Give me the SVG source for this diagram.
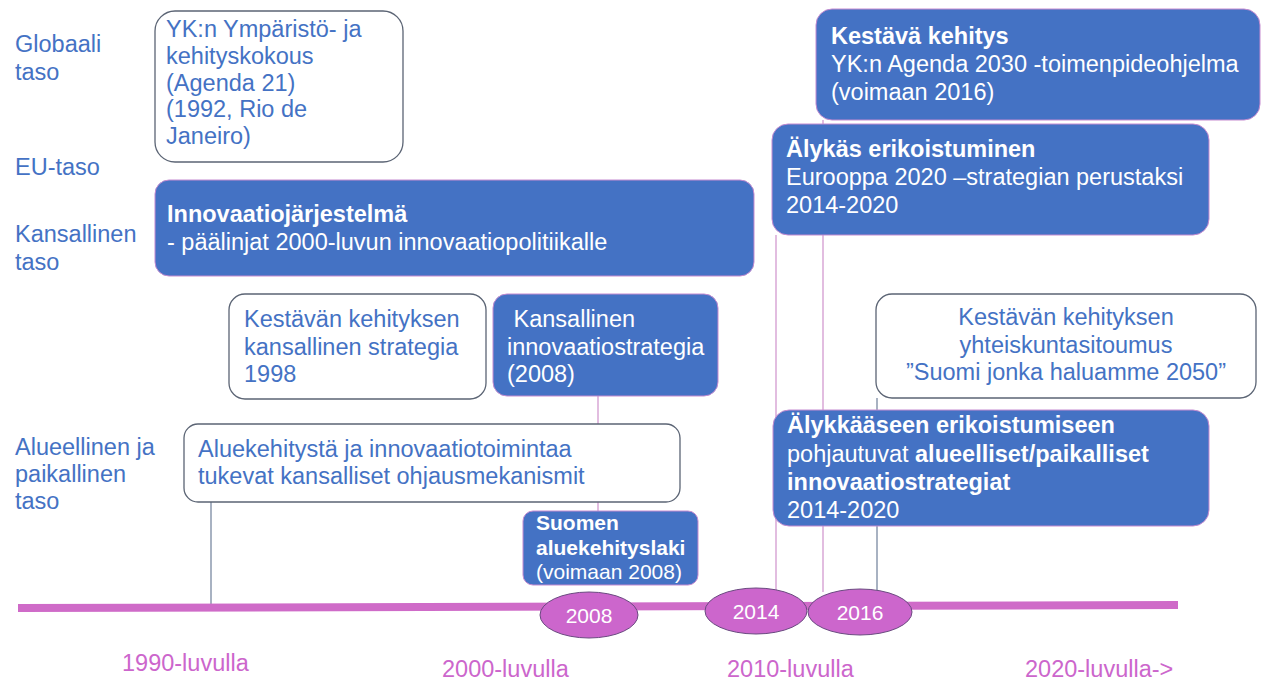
<svg xmlns="http://www.w3.org/2000/svg" width="1262" height="680" viewBox="0 0 1262 680">
<style>
text{font-family:"Liberation Sans",Arial,sans-serif;font-size:23.5px}
.lbl{fill:#4472C4}
.wt{fill:#4472C4}
.bt{fill:#ffffff}
.b{font-weight:bold}
.wbox{fill:#ffffff;stroke:#5B6474;stroke-width:1.3}
.bbox{fill:#4472C4;stroke:#C58BD0;stroke-width:1}
.pk{stroke:#D39AD0;stroke-width:1.3;fill:none}
.gy{stroke:#6E7F99;stroke-width:1.2;fill:none}
.yr{fill:#CC66CC;stroke:#6A4A80;stroke-width:1}
.yt{fill:#ffffff;font-size:21px;text-anchor:middle}
.dec{fill:#CC66CC;font-size:23.5px}
</style>
<rect width="1262" height="680" fill="#ffffff"/>
<g id="connectors">
<line class="gy" x1="211" y1="502" x2="211" y2="608"/>
<line class="pk" x1="598" y1="396" x2="598" y2="511"/>
<line class="pk" x1="776" y1="235" x2="776" y2="590"/>
<line class="pk" x1="823" y1="120" x2="823" y2="592"/>
<line class="gy" x1="877" y1="398" x2="877" y2="590"/>
</g>
<g id="levels">
<text class="lbl" x="15" y="52">Globaali</text>
<text class="lbl" x="15" y="80">taso</text>
<text class="lbl" x="15" y="175">EU-taso</text>
<text class="lbl" x="15" y="242">Kansallinen</text>
<text class="lbl" x="15" y="270">taso</text>
<text class="lbl" x="15" y="455">Alueellinen ja</text>
<text class="lbl" x="15" y="482">paikallinen</text>
<text class="lbl" x="15" y="509">taso</text>
</g>
<g id="node-yk">
<rect class="wbox" x="155" y="11" width="248" height="151" rx="20"/>
<text class="wt" x="166" y="37">YK:n Ympäristö- ja</text>
<text class="wt" x="166" y="64">kehityskokous</text>
<text class="wt" x="166" y="90.5">(Agenda 21)</text>
<text class="wt" x="166" y="117">(1992, Rio de</text>
<text class="wt" x="166" y="144">Janeiro)</text>
</g>
<g id="node-innovaatiojarjestelma">
<rect class="bbox" x="155" y="180" width="599" height="96" rx="14"/>
<text class="bt b" x="167" y="222">Innovaatiojärjestelmä</text>
<text class="bt" x="167" y="250">- päälinjat 2000-luvun innovaatiopolitiikalle</text>
</g>
<g id="node-kestava-kehitys">
<rect class="bbox" x="816" y="9" width="444" height="111" rx="16"/>
<text class="bt b" x="831" y="44">Kestävä kehitys</text>
<text class="bt" x="831" y="72">YK:n Agenda 2030 -toimenpideohjelma</text>
<text class="bt" x="831" y="100">(voimaan 2016)</text>
</g>
<g id="node-alykas">
<rect class="bbox" x="772" y="124" width="437" height="111" rx="16"/>
<text class="bt b" x="786" y="157">Älykäs erikoistuminen</text>
<text class="bt" x="786" y="185">Eurooppa 2020 –strategian perustaksi</text>
<text class="bt" x="786" y="213">2014-2020</text>
</g>
<g id="node-kestavan-strategia">
<rect class="wbox" x="229" y="294" width="257" height="105" rx="16"/>
<text class="wt" x="244" y="327">Kestävän kehityksen</text>
<text class="wt" x="244" y="355">kansallinen strategia</text>
<text class="wt" x="244" y="382">1998</text>
</g>
<g id="node-kansallinen-innovaatiostrategia">
<rect class="bbox" x="493" y="294" width="225" height="102" rx="14"/>
<text class="bt" x="507" y="327" xml:space="preserve"> Kansallinen</text>
<text class="bt" x="507" y="355">innovaatiostrategia</text>
<text class="bt" x="507" y="382">(2008)</text>
</g>
<g id="node-yhteiskuntasitoumus">
<rect class="wbox" x="876" y="294" width="380" height="104" rx="16"/>
<text class="wt" x="1066" y="325" text-anchor="middle">Kestävän kehityksen</text>
<text class="wt" x="1066" y="353" text-anchor="middle">yhteiskuntasitoumus</text>
<text class="wt" x="1066" y="380" text-anchor="middle">”Suomi jonka haluamme 2050”</text>
</g>
<g id="node-alykkaaseen">
<rect class="bbox" x="773" y="410" width="436" height="116" rx="16"/>
<text class="bt b" x="787" y="433">Älykkääseen erikoistumiseen</text>
<text class="bt" x="787" y="462">pohjautuvat <tspan class="b">alueelliset/paikalliset</tspan></text>
<text class="bt b" x="787" y="490">innovaatiostrategiat</text>
<text class="bt" x="787" y="518">2014-2020</text>
</g>
<g id="node-aluekehitys">
<rect class="wbox" x="184" y="424" width="496" height="78" rx="14"/>
<text class="wt" x="198" y="457">Aluekehitystä ja innovaatiotoimintaa</text>
<text class="wt" x="198" y="484">tukevat kansalliset ohjausmekanismit</text>
</g>
<g id="node-suomen-aluekehityslaki">
<rect class="bbox" x="523" y="511" width="175" height="74" rx="10"/>
<text class="bt b" x="536" y="530" style="font-size:21px">Suomen</text>
<text class="bt b" x="536" y="555" style="font-size:21px">aluekehityslaki</text>
<text class="bt" x="536" y="579" style="font-size:21px">(voimaan 2008)</text>
</g>
<g id="timeline">
<polygon points="18,604 1178,601 1178,609 18,612" fill="#CF6BC8"/>
</g>
<g id="year-2008">
<ellipse class="yr" cx="589" cy="615" rx="49" ry="23"/>
<text class="yt" x="589" y="623">2008</text>
</g>
<g id="year-2014">
<ellipse class="yr" cx="756" cy="611" rx="51" ry="23"/>
<text class="yt" x="756" y="619">2014</text>
</g>
<g id="year-2016">
<ellipse class="yr" cx="860" cy="612" rx="52" ry="23"/>
<text class="yt" x="860" y="620">2016</text>
</g>
<g id="decades">
<text class="dec" x="122" y="671">1990-luvulla</text>
<text class="dec" x="442" y="677">2000-luvulla</text>
<text class="dec" x="727" y="677">2010-luvulla</text>
<text class="dec" x="1025" y="677">2020-luvulla-&gt;</text>
</g>
</svg>
